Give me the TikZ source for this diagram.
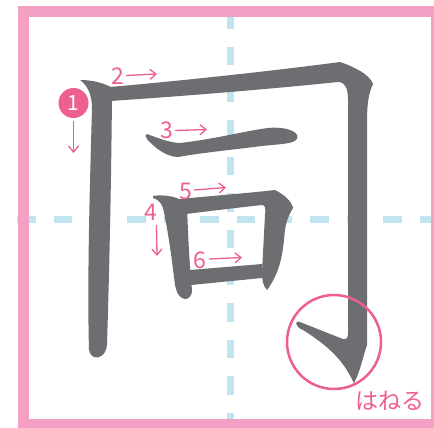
\documentclass[tikz,border=0pt]{standalone}
\usepackage{fontspec}
\setmainfont{Noto Sans CJK JP}
\usetikzlibrary{arrows.meta}
\definecolor{framepink}{HTML}{F3A0C4}
\definecolor{lpink}{HTML}{EC5F90}
\definecolor{guide}{HTML}{C0E5EF}
\definecolor{ink}{HTML}{6D6E72}
\tikzset{
  guideline/.style={draw=guide, line width=7pt, dash pattern=on 18.3pt off 18.3pt},
  strokeshape/.style={fill=ink, draw=none},
  numlabel/.style={text=lpink, inner sep=0pt, font=\fontsize{23}{27}\selectfont},
  dirarrow/.style={draw=lpink, line width=1.3pt, -{Straight Barb[length=6pt,width=10pt]}},
}
\begin{document}
\begin{tikzpicture}[x=1pt,y=-1pt]
\clip (0,0) rectangle (434,428);
\fill[white] (0,0) rectangle (434,428);
% guide lines
\draw[guideline] (230.5,10.4) -- (230.5,420);
\draw[guideline] (17.4,219) -- (432,219);
% frame
\draw[draw=framepink, line width=11pt] (23.5,11.5) rectangle (436.5,424.5);
% stroke 1
\fill[strokeshape] (80,80) .. controls (95,80) and (105,84) .. (113,88)
  -- (112,96) .. controls (111,200) and (109,280) .. (107,345)
  .. controls (106,359) and (91,362) .. (89,350)
  .. controls (87,280) and (90,180) .. (92,108)
  .. controls (92,94) and (87,85) .. (80,80) -- cycle;
% stroke 2
\fill[strokeshape] (110,87) .. controls (190,80) and (280,70) .. (340,62)
  .. controls (355,67) and (370,75) .. (373,84)
  .. controls (368,95) and (367,105) .. (367,125)
  -- (367,345) .. controls (362,360) and (360,372) .. (354,383)
  .. controls (345,365) and (335,350) .. (303,330)
  .. controls (295,327) and (294,320) .. (300,322)
  .. controls (320,330) and (335,336) .. (343,339)
  .. controls (347,340) and (348,337) .. (348,333)
  -- (348,100) .. controls (348,88) and (345,82) .. (338,82)
  .. controls (280,88) and (200,95) .. (110,101) -- cycle;
% stroke 3
\fill[strokeshape] (147,134) .. controls (155,137) and (170,143) .. (180,143)
  .. controls (215,139) and (245,131) .. (268,128)
  .. controls (290,126) and (302,134) .. (296,140)
  .. controls (292,144) and (280,144) .. (262,146)
  .. controls (230,150) and (200,153) .. (178,157)
  .. controls (165,157) and (152,145) .. (147,139)
  .. controls (145,137) and (145,134) .. (147,134) -- cycle;
% stroke 4
\fill[strokeshape] (153,196) .. controls (165,194) and (178,197) .. (187,203)
  .. controls (188,240) and (190,270) .. (192,290)
  .. controls (192,298) and (186,301) .. (182,298)
  .. controls (178,296) and (176,290) .. (175,285)
  .. controls (172,260) and (168,230) .. (163,208)
  .. controls (161,202) and (157,199) .. (153,198) -- cycle;
% stroke 5
\fill[strokeshape] (180,199) .. controls (210,196) and (250,193) .. (275,190)
  .. controls (285,195) and (292,202) .. (293,208)
  .. controls (287,218) and (285,225) .. (284,240)
  .. controls (282,260) and (278,275) .. (267,290)
  .. controls (263,286) and (262,280) .. (262,272)
  -- (265,215) .. controls (266,208) and (265,205) .. (262,205)
  .. controls (235,208) and (210,211) .. (186,214) -- cycle;
% stroke 6
\fill[strokeshape] (190,270) -- (262,264) -- (262,278) -- (191,285) -- cycle;
% hook circle
\node[draw=lpink, line width=2.5pt, circle, minimum size=94pt, inner sep=0pt] (hookc) at (334,342) {};
\node[text=lpink, inner sep=0pt, font=\fontsize{23}{27}\selectfont] (haneru) at (390,401) {はねる};
% labels
\node[circle, fill=lpink, minimum size=30pt, inner sep=0pt, text=white, font=\fontsize{21}{25}\selectfont] (n1) at (73.5,103) {1};
\coordinate (a1s) at (73.5,121); \coordinate (a1e) at (73.5,153);
\draw[dirarrow] (a1s) -- (a1e);
\node[numlabel] (n2) at (118,76) {2};
\coordinate (a2s) at (126,75.5); \coordinate (a2e) at (157,74);
\draw[dirarrow] (a2s) -- (a2e);
\node[numlabel] (n3) at (166.5,130) {3};
\coordinate (a3s) at (175,130.5); \coordinate (a3e) at (207,129.5);
\draw[dirarrow] (a3s) -- (a3e);
\node[numlabel] (n4) at (150.7,212) {4};
\coordinate (a4s) at (156.5,225); \coordinate (a4e) at (157,256);
\draw[dirarrow] (a4s) -- (a4e);
\node[numlabel] (n5) at (186,191) {5};
\coordinate (a5s) at (194,190); \coordinate (a5e) at (226,187.5);
\draw[dirarrow] (a5s) -- (a5e);
\node[numlabel] (n6) at (199.5,260) {6};
\coordinate (a6s) at (209,259); \coordinate (a6e) at (242,257.5);
\draw[dirarrow] (a6s) -- (a6e);
\end{tikzpicture}
\end{document}
